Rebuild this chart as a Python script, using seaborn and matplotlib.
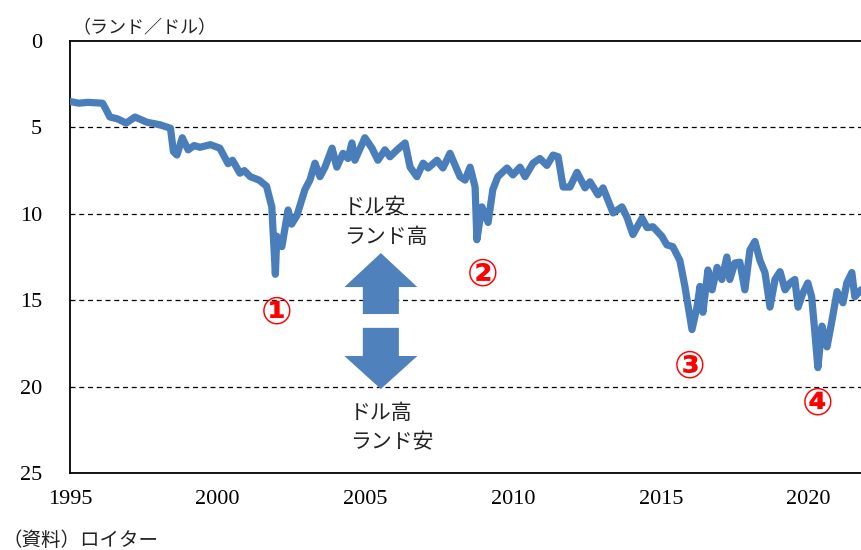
import numpy as np
import pandas as pd
import matplotlib
matplotlib.use("Agg")
import matplotlib.pyplot as plt
from matplotlib.patches import Polygon
import seaborn as sns

# USD/ZAR rate (rand per dollar)
years = [1995.0, 1995.3, 1995.6, 1996.1, 1996.2, 1996.35, 1996.6, 1996.9, 1997.2, 1997.6,
         1998.05, 1998.4, 1998.5, 1998.62, 1998.8, 1999.0, 1999.2, 1999.4, 1999.75, 2000.07,
         2000.35, 2000.5, 2000.75, 2000.9, 2001.1, 2001.4, 2001.65, 2001.83, 2001.95, 2002.0,
         2002.17, 2002.38, 2002.5, 2002.68, 2002.95, 2003.12, 2003.29, 2003.46, 2003.63,
         2003.87, 2004.03, 2004.24, 2004.41, 2004.54, 2004.64, 2004.98, 2005.22, 2005.42,
         2005.66, 2005.83, 2006.07, 2006.34, 2006.51, 2006.74, 2006.95, 2007.12, 2007.42,
         2007.62, 2007.86, 2008.2, 2008.37, 2008.54, 2008.71, 2008.77, 2008.94, 2009.15,
         2009.31, 2009.48, 2009.79, 2009.99, 2010.23, 2010.4, 2010.67, 2010.9, 2011.14,
         2011.35, 2011.52, 2011.69, 2011.92, 2012.16, 2012.43, 2012.6, 2012.87, 2013.04,
         2013.38, 2013.68, 2013.85, 2014.05, 2014.36, 2014.53, 2014.73, 2015.03, 2015.2,
         2015.4, 2015.64, 2015.81, 2016.05, 2016.22, 2016.32, 2016.42, 2016.59, 2016.73,
         2016.9, 2017.06, 2017.23, 2017.33, 2017.5, 2017.67, 2017.84, 2018.01, 2018.18,
         2018.35, 2018.52, 2018.69, 2018.86, 2019.03, 2019.2, 2019.37, 2019.53, 2019.64,
         2019.8, 2019.97, 2020.1, 2020.2, 2020.31, 2020.45, 2020.62, 2020.79, 2020.96,
         2021.16, 2021.29, 2021.46, 2021.56, 2021.77]
rates = [3.5, 3.6, 3.55, 3.6, 3.9, 4.4, 4.5, 4.75, 4.4, 4.7,
         4.85, 5.05, 6.4, 6.6, 5.6, 6.3, 6.05, 6.15, 6.0, 6.2,
         7.1, 6.9, 7.65, 7.5, 7.85, 8.05, 8.4, 9.6, 13.5, 11.3,
         11.9, 9.78, 10.6, 10.1, 8.6, 8.05, 7.07, 7.85, 7.3,
         6.2, 7.3, 6.5, 6.8, 5.9, 6.9, 5.6, 6.2, 6.9,
         6.3, 6.7, 6.3, 5.9, 7.3, 7.85, 7.07, 7.35, 6.9,
         7.35, 6.5, 7.85, 8.05, 7.3, 8.45, 11.5, 9.6, 10.5,
         8.6, 7.85, 7.35, 7.75, 7.3, 7.85, 7.07, 6.8, 7.2,
         6.6, 6.7, 8.45, 8.45, 7.6, 8.5, 8.15, 8.9, 8.5,
         9.95, 9.6, 10.2, 11.2, 10.25, 10.8, 10.75, 11.3, 11.8,
         11.9, 12.7, 14.2, 16.7, 15.4, 14.2, 15.7, 13.25, 14.4,
         13.1, 13.8, 12.5, 13.8, 12.85, 12.8, 14.4, 12.1, 11.6,
         12.7, 13.4, 15.4, 13.8, 13.35, 14.4, 14.0, 13.8, 15.4,
         14.6, 14.0, 14.8, 16.7, 18.9, 16.5, 17.7, 16.15, 14.5,
         15.15, 14.0, 13.4, 14.8, 14.4]

x_ticks = [1995, 2000, 2005, 2010, 2015, 2020]
y_ticks = [0, 5, 10, 15, 20, 25]

# event markers: label, x, y
events = [("①", 2002.0, 15.75), ("②", 2008.98, 13.6),
          ("③", 2015.98, 18.9), ("④", 2020.31, 21.06)]

df = pd.DataFrame({"year": years, "rate": rates})

sns.set_theme(style="white")
plt.rcParams['font.family'] = ['Liberation Serif', 'Noto Sans CJK JP']
jp = ['Noto Sans CJK JP', 'DejaVu Sans']
blue = "#4a7ebb"

fig = plt.figure(figsize=(8.61, 5.5), dpi=100)
ax = fig.add_axes([70 / 861, 1 - 473 / 550, 1 - 70 / 861, (473 - 41) / 550])

sns.lineplot(data=df, x="year", y="rate", ax=ax, color=blue, linewidth=5.2,
             solid_capstyle="round", solid_joinstyle="round", zorder=3)

ax.set_xlim(1995, 2021.77)
ax.set_ylim(25, 0)
ax.set_xticks(x_ticks)
ax.set_yticks(y_ticks)
ax.set_xlabel("")
ax.set_ylabel("")
ax.tick_params(axis="x", direction="in", length=5, width=1, color="black",
               labelsize=16, pad=12, labelcolor="black")
ax.tick_params(axis="y", length=0, labelsize=16, pad=20, labelcolor="black")

for v in [5, 10, 15, 20]:
    ax.axhline(v, color="black", linewidth=0.9, linestyle=(0, (4, 3)), zorder=1)

for side in ["left", "bottom", "top"]:
    ax.spines[side].set_color("black")
    ax.spines[side].set_linewidth(1.3)
ax.spines["right"].set_visible(False)

# up / down arrows
cx, hw, sw = 2005.52, 1.235, 0.61
up = [(cx, 12.27), (cx + hw, 14.24), (cx + sw, 14.24), (cx + sw, 15.8),
      (cx - sw, 15.8), (cx - sw, 14.24), (cx - hw, 14.24)]
down = [(cx, 20.14), (cx + hw, 18.23), (cx + sw, 18.23), (cx + sw, 16.6),
        (cx - sw, 16.6), (cx - sw, 18.23), (cx - hw, 18.23)]
for pts in (up, down):
    ax.add_patch(Polygon(pts, closed=True, facecolor="#4f81bd", edgecolor="none", zorder=4))

ax.text(2004.27, 9.6, "ドル安", family=jp, fontsize=15, color="#222222", va="center", ha="left")
ax.text(2004.27, 11.35, "ランド高", family=jp, fontsize=15, color="#222222", va="center", ha="left")
ax.text(2004.48, 21.5, "ドル高", family=jp, fontsize=15, color="#222222", va="center", ha="left")
ax.text(2004.48, 23.2, "ランド安", family=jp, fontsize=15, color="#222222", va="center", ha="left")

for label, ex, ey in events:
    ax.text(ex, ey, label, family=['DejaVu Sans'], fontsize=27, color="red",
            fontweight="bold", ha="center", va="center", zorder=5)

fig.text(72 / 861, 1 - 28 / 550, "（ランド／ドル）", family=jp, fontsize=13,
         color="#222222", ha="left", va="center")
fig.text(2 / 861, 1 - 540 / 550, "（資料）ロイター", family=jp, fontsize=14,
         color="#222222", ha="left", va="center")

fig.savefig("out.png", dpi=100)
